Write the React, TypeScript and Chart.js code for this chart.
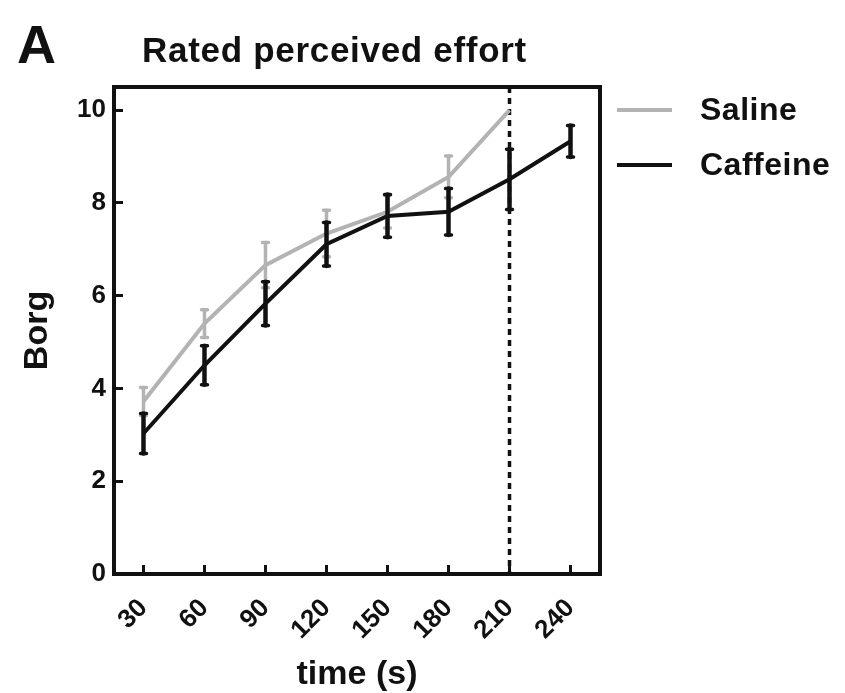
import React, { useEffect, useRef } from 'react';
import { Chart, registerables } from 'chart.js';

Chart.register(...registerables);

// ---- data ----
const timePoints = [30, 60, 90, 120, 150, 180, 210, 240];
const salineMean = [3.72, 5.4, 6.66, 7.34, 7.81, 8.56, 10.0, null];
const salineSem = [0.3, 0.3, 0.49, 0.5, 0.35, 0.45, 0, null];
const caffeineMean = [3.03, 4.5, 5.83, 7.11, 7.72, 7.81, 8.51, 9.33];
const caffeineSem = [0.43, 0.42, 0.47, 0.47, 0.46, 0.5, 0.65, 0.34];
const yTickValues = [0, 2, 4, 6, 8, 10];
const cutoffTime = 210;
const seriesNames = ['Saline', 'Caffeine'];

const FONT = '"Liberation Sans", Arial, sans-serif';
const INK = '#111111';
const GREY = '#b3b3b3';

const toPoints = (means: (number | null)[]) =>
  timePoints
    .map((t, i) => ({ x: t, y: means[i] }))
    .filter((p) => p.y !== null) as { x: number; y: number }[];

const errorBarPlugin = {
  id: 'errorBars',
  afterDatasetDraw(chart: any, args: any) {
    const ds = chart.data.datasets[args.index];
    const errs: (number | null)[] = ds.errors;
    const means: (number | null)[] = ds.means;
    if (!errs) return;
    const { ctx } = chart;
    const x = chart.scales.x;
    const y = chart.scales.y;
    ctx.save();
    ctx.strokeStyle = ds.borderColor;
    ctx.lineCap = 'round';
    means.forEach((v, i) => {
      const e = errs[i];
      if (v === null || !e) return;
      const px = x.getPixelForValue(timePoints[i]);
      const yt = y.getPixelForValue(v + e);
      const yb = y.getPixelForValue(v - e);
      ctx.lineWidth = ds.errorWidth;
      ctx.beginPath();
      ctx.moveTo(px, yt);
      ctx.lineTo(px, yb);
      ctx.stroke();
      ctx.lineWidth = 3.5;
      ctx.beginPath();
      ctx.moveTo(px - 3, yt);
      ctx.lineTo(px + 3, yt);
      ctx.moveTo(px - 3, yb);
      ctx.lineTo(px + 3, yb);
      ctx.stroke();
    });
    ctx.restore();
  },
};

const cutoffPlugin = {
  id: 'cutoff',
  beforeDatasetsDraw(chart: any) {
    const { ctx, chartArea } = chart;
    const px = chart.scales.x.getPixelForValue(cutoffTime);
    ctx.save();
    ctx.strokeStyle = INK;
    ctx.lineWidth = 3.5;
    ctx.setLineDash([6, 5]);
    ctx.beginPath();
    ctx.moveTo(px, chartArea.top);
    ctx.lineTo(px, chartArea.bottom);
    ctx.stroke();
    ctx.restore();
  },
};

const decorPlugin = {
  id: 'decor',
  afterDraw(chart: any) {
    const { ctx, chartArea } = chart;
    ctx.save();
    // frame
    ctx.strokeStyle = INK;
    ctx.lineWidth = 4;
    ctx.strokeRect(chartArea.left, chartArea.top, chartArea.right - chartArea.left, chartArea.bottom - chartArea.top);
    // panel letter
    ctx.fillStyle = INK;
    ctx.textBaseline = 'alphabetic';
    ctx.textAlign = 'left';
    ctx.font = `bold 54px ${FONT}`;
    ctx.fillText('A', 17, 63);
    // title
    ctx.font = `bold 35px ${FONT}`;
    (ctx as any).letterSpacing = '0.7px';
    ctx.fillText('Rated perceived effort', 142, 62);
    // legend
    const ds = chart.data.datasets;
    const order = [1, 0];
    const rows = [110, 165];
    (ctx as any).letterSpacing = '0.5px';
    ctx.font = `bold 32px ${FONT}`;
    ctx.textBaseline = 'middle';
    order.forEach((di, r) => {
      const d = ds[di];
      ctx.strokeStyle = d.borderColor;
      ctx.lineWidth = 4;
      ctx.beginPath();
      ctx.moveTo(617, rows[r]);
      ctx.lineTo(672, rows[r]);
      ctx.stroke();
      ctx.fillStyle = INK;
      ctx.fillText(d.label, 700, rows[r] + 1);
    });
    (ctx as any).letterSpacing = '0px';
    ctx.restore();
  },
};

export default function App() {
  const ref = useRef<HTMLCanvasElement | null>(null);

  useEffect(() => {
    if (!ref.current) return;
    const chart = new Chart(ref.current, {
      type: 'line',
      data: {
        datasets: [
          {
            label: seriesNames[1],
            data: toPoints(caffeineMean),
            borderColor: INK,
            borderWidth: 4,
            pointRadius: 0,
            tension: 0,
            order: 1,
            // @ts-ignore
            errors: caffeineSem,
            means: caffeineMean,
            errorWidth: 4.5,
          } as any,
          {
            label: seriesNames[0],
            data: toPoints(salineMean),
            borderColor: GREY,
            borderWidth: 4,
            pointRadius: 0,
            tension: 0,
            order: 2,
            // @ts-ignore
            errors: salineSem,
            means: salineMean,
            errorWidth: 3.5,
          } as any,
        ],
      },
      options: {
        animation: false,
        responsive: false,
        devicePixelRatio: 1,
        layout: { padding: { top: 87, right: 245, left: 0, bottom: 0 } },
        plugins: {
          legend: { display: false },
          title: { display: false },
          tooltip: { enabled: false },
        },
        scales: {
          x: {
            type: 'linear',
            min: 15.5,
            max: 254.5,
            afterBuildTicks: (scale: any) => {
              scale.ticks = timePoints.map((v) => ({ value: v }));
            },
            afterFit: (scale: any) => {
              scale.height = 119;
            },
            border: { display: false },
            grid: {
              drawOnChartArea: false,
              drawTicks: true,
              tickLength: -9,
              tickWidth: 3,
              tickColor: INK,
            },
            ticks: {
              autoSkip: false,
              minRotation: 45,
              maxRotation: 45,
              padding: 28,
              color: INK,
              font: { family: FONT, size: 26, weight: 'bold' },
              callback: (v: any) => String(v),
            },
            title: {
              display: true,
              text: 'time (s)',
              color: INK,
              font: { family: FONT, size: 34, weight: 'bold', lineHeight: 1.05 },
              padding: { top: 0, bottom: 1 },
            },
          },
          y: {
            type: 'linear',
            min: 0,
            max: 10.5,
            afterBuildTicks: (scale: any) => {
              scale.ticks = yTickValues.map((v) => ({ value: v }));
            },
            afterFit: (scale: any) => {
              scale.width = 114;
            },
            border: { display: false },
            grid: {
              drawOnChartArea: false,
              drawTicks: true,
              tickLength: -9,
              tickWidth: 3,
              tickColor: INK,
            },
            ticks: {
              padding: 17,
              color: INK,
              font: { family: FONT, size: 26, weight: 'bold' },
              callback: (v: any) => String(v),
            },
            title: {
              display: true,
              text: 'Borg',
              color: INK,
              font: { family: FONT, size: 34, weight: 'bold' },
              padding: { top: 17, bottom: 0 },
            },
          },
        },
      } as any,
      plugins: [cutoffPlugin, errorBarPlugin, decorPlugin],
    });
    return () => chart.destroy();
  }, []);

  return (
    <div style={{ position: 'fixed', left: 0, top: 0, width: 845, height: 693, background: '#fff' }}>
      <canvas ref={ref} width={845} height={693} />
    </div>
  );
}
